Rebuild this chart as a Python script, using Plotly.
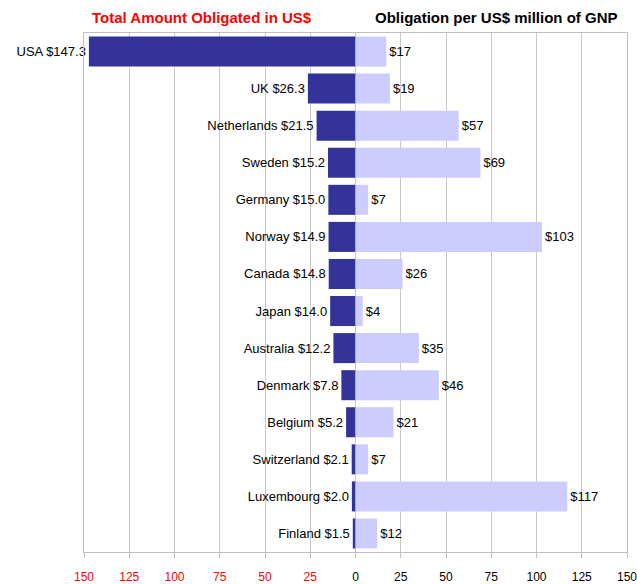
import plotly.graph_objects as go

countries = ["USA", "UK", "Netherlands", "Sweden", "Germany", "Norway", "Canada",
             "Japan", "Australia", "Denmark", "Belgium", "Switzerland", "Luxembourg", "Finland"]
total_obligated = [147.3, 26.3, 21.5, 15.2, 15.0, 14.9, 14.8, 14.0, 12.2, 7.8, 5.2, 2.1, 2.0, 1.5]
per_gnp = [17, 19, 57, 69, 7, 103, 26, 4, 35, 46, 21, 7, 117, 12]
tick_values = [-150, -125, -100, -75, -50, -25, 0, 25, 50, 75, 100, 125, 150]

left_text = [f"{c} ${v:.1f}" for c, v in zip(countries, total_obligated)]
right_text = [f"${v}" for v in per_gnp]
tick_text = [f'<span style="color:#FF0000">{abs(v)}</span>' if v < 0 else str(v) for v in tick_values]

FONT = "Liberation Sans, Arial, sans-serif"

W, H = 637, 584
ML, MR, MT, MB = 84, 10, 33, 32
PW = W - ML - MR
PH = H - MT - MB


def px_to_paper(px, py):
    return (px - ML) / PW, 1 + (MT - py) / PH


fig = go.Figure()
fig.add_trace(go.Bar(
    y=countries, x=[-v for v in total_obligated], orientation="h",
    marker=dict(color="#333399", line=dict(width=0)),
    text=left_text, textposition="outside", constraintext="none",
    textfont=dict(family=FONT, size=13, color="#000000"),
    cliponaxis=False, hoverinfo="skip",
))
fig.add_trace(go.Bar(
    y=countries, x=per_gnp, orientation="h",
    marker=dict(color="#CCCCFF", line=dict(width=0)),
    text=right_text, textposition="outside", constraintext="none",
    textfont=dict(family=FONT, size=13, color="#000000"),
    cliponaxis=False, hoverinfo="skip",
))

t1x, t1y = px_to_paper(202, 18)
t2x, t2y = px_to_paper(497, 18)

fig.update_layout(
    width=W, height=H,
    barmode="relative", bargap=0.19,
    showlegend=False,
    paper_bgcolor="white", plot_bgcolor="white",
    margin=dict(l=ML, r=MR, t=MT, b=MB, autoexpand=False),
    font=dict(family=FONT, size=12, color="#000000"),
    xaxis=dict(
        range=[-150, 150], tickvals=tick_values, ticktext=tick_text,
        showgrid=True, gridcolor="#C8C8C8", gridwidth=1,
        zeroline=False,
        showline=True, linecolor="#C0C0C0", linewidth=1, mirror=True,
        ticks="outside", ticklen=5, tickcolor="#C0C0C0",
        ticklabelstandoff=9, ticklabeloverflow="allow",
        tickfont=dict(family=FONT, size=12, color="#000000"),
        automargin=False, fixedrange=True,
    ),
    yaxis=dict(
        autorange="reversed", showticklabels=False, showgrid=False,
        zeroline=False, showline=True, linecolor="#C0C0C0", mirror=True,
        ticks="", automargin=False, fixedrange=True,
    ),
    annotations=[
        dict(text="<b>Total Amount Obligated in US$</b>", x=t1x, y=t1y,
             xref="paper", yref="paper", showarrow=False,
             xanchor="center", yanchor="middle",
             font=dict(family=FONT, size=15, color="#FF0000")),
        dict(text="<b>Obligation per US$ million of GNP</b>", x=t2x, y=t2y,
             xref="paper", yref="paper", showarrow=False,
             xanchor="center", yanchor="middle",
             font=dict(family=FONT, size=15, color="#000000")),
    ],
)

fig.write_html(
    "out.html",
    config={"displayModeBar": False},
    post_script="document.body.style.margin='0';document.body.style.overflow='hidden';",
)
